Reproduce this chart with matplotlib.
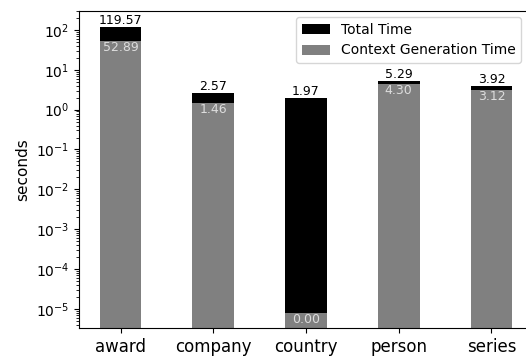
import numpy as np
import matplotlib.pyplot as plt

categories = ["award", "company", "country", "person", "series"]
total_time = [119.57, 2.57, 1.97, 5.29, 3.92]
context_time = [52.89, 1.46, 7.8e-6, 4.30, 3.12]

fig = plt.figure(figsize=(5.26, 3.56), dpi=100)
ax = fig.add_axes([79 / 526, 28 / 356, 454 / 526, 317 / 356])

x = np.arange(len(categories))
w = 0.45
ax.bar(x, total_time, w, color="black", label="Total Time")
ax.bar(x, context_time, w, color="gray", label="Context Generation Time")

for i in range(len(categories)):
    ax.text(x[i], total_time[i], f"{total_time[i]:.2f}", ha="center", va="bottom", fontsize=9)
    ax.text(x[i], context_time[i], f"{context_time[i]:.2f}", ha="center", va="top",
            fontsize=9, color="#dddddd")

ax.set_yscale("log")
ax.set_ylim(3.3e-6, 300)
ax.set_xlim(-0.4475, len(categories) - 1 + 0.4475)
ax.spines["right"].set_visible(False)
ax.set_xticks(x)
ax.set_xticklabels(categories, fontsize=12)
ax.set_ylabel("seconds", fontsize=11)
ax.legend(loc="upper right", bbox_to_anchor=(521 / 526, 1 - 17 / 356),
          bbox_transform=fig.transFigure, borderaxespad=0, fontsize=10)

fig.savefig("out.png", dpi=100)
